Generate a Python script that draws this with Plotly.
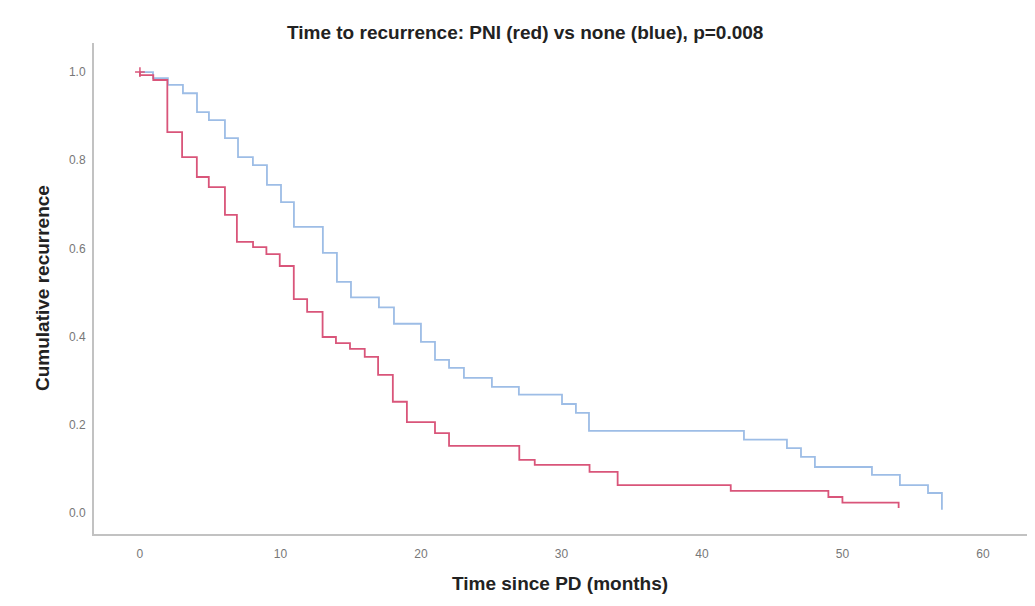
import plotly.graph_objects as go

# Kaplan-Meier style step data
red_t = [0, 0, 0.95, 1.95, 3.0, 4.05, 4.9, 6.05, 6.9, 8.05, 9.0, 9.95, 10.95, 11.9, 13.0,
         13.95, 14.95, 16.0, 16.95, 18.0, 19.0, 21.0, 22.0, 27.0, 28.1, 32.0, 34.0, 42.05,
         49.0, 50.0, 54.0]
red_s = [1.0, 0.993, 0.982, 0.864, 0.807, 0.762, 0.739, 0.676, 0.615, 0.603, 0.587, 0.560,
         0.485, 0.456, 0.399, 0.385, 0.372, 0.354, 0.313, 0.252, 0.206, 0.181, 0.152, 0.120,
         0.109, 0.093, 0.063, 0.050, 0.036, 0.023, 0.011]

blue_t = [0, 0.93, 1.99, 3.06, 4.06, 4.91, 6.05, 6.98, 8.04, 9.04, 10.04, 10.96, 13.02,
          14.02, 15.02, 17.01, 18.08, 20.0, 21.0, 22.0, 23.06, 25.05, 26.97, 30.04, 31.03,
          31.96, 42.99, 46.05, 47.05, 48.04, 52.1, 54.09, 56.09, 57.08]
blue_s = [1.0, 0.986, 0.971, 0.952, 0.909, 0.891, 0.850, 0.807, 0.789, 0.744, 0.705, 0.649,
          0.590, 0.524, 0.489, 0.466, 0.429, 0.388, 0.347, 0.329, 0.306, 0.286, 0.268, 0.247,
          0.227, 0.186, 0.166, 0.147, 0.127, 0.104, 0.086, 0.063, 0.045, 0.007]

red_censor_t = [0]
red_censor_s = [1.0]

x_ticks = [0, 10, 20, 30, 40, 50, 60]
y_ticks = [0.0, 0.2, 0.4, 0.6, 0.8, 1.0]
y_tick_labels = ["0.0", "0.2", "0.4", "0.6", "0.8", "1.0"]

title_text = "Time to recurrence: PNI (red) vs none (blue), p=0.008"
x_title = "Time since PD (months)"
y_title = "Cumulative recurrence"

RED = "#d9557a"
BLUE = "#9dbde6"

# page body adds an 8px offset; plot area is 936 x 491 px
L, T, PW, PH = 86, 35, 936, 491

fig = go.Figure()
fig.add_trace(go.Scatter(x=blue_t, y=blue_s, mode="lines", line=dict(shape="hv", color=BLUE, width=1.8),
                         name="none", showlegend=False, hoverinfo="skip"))
fig.add_trace(go.Scatter(x=red_t, y=red_s, mode="lines", line=dict(shape="hv", color=RED, width=1.8),
                         name="PNI", showlegend=False, hoverinfo="skip"))
fig.add_trace(go.Scatter(x=red_censor_t, y=red_censor_s, mode="markers",
                         marker=dict(symbol="cross-thin", size=7, line=dict(color=RED, width=1.5)),
                         showlegend=False, hoverinfo="skip"))

fig.update_layout(
    width=1027, height=598,
    margin=dict(l=L, r=1027 - L - PW, t=T, b=598 - T - PH),
    paper_bgcolor="white", plot_bgcolor="white",
    font=dict(family="Liberation Sans, Arial, sans-serif", color="#222"),
    xaxis=dict(range=[-3.27, 63.35], tickvals=x_ticks, showgrid=False, zeroline=False,
               showline=True, linecolor="#c2c2c2", linewidth=2,
               tickfont=dict(size=12, color="#777"), ticks="", ticklabelstandoff=8),
    yaxis=dict(range=[-0.048, 1.066], tickvals=y_ticks, ticktext=y_tick_labels, showgrid=False,
               zeroline=False, showline=True, linecolor="#c2c2c2", linewidth=2,
               tickfont=dict(size=12, color="#777"), ticks="", ticklabelstandoff=4),
    annotations=[
        dict(text=title_text, xref="paper", yref="paper", x=(525 - 94) / PW, y=1 + (43 - 33) / PH,
             showarrow=False, xanchor="center", yanchor="middle",
             font=dict(size=19, color="#222", weight="bold")),
        dict(text=x_title, xref="paper", yref="paper", x=(560 - 94) / PW, y=-(583 - 534) / PH,
             showarrow=False, xanchor="center", yanchor="middle",
             font=dict(size=19, color="#222", weight="bold")),
        dict(text=y_title, xref="paper", yref="paper", x=-(94 - 42) / PW, y=(534 - 288) / PH,
             showarrow=False, xanchor="center", yanchor="middle", textangle=-90,
             font=dict(size=19, color="#222", weight="bold")),
    ],
)

fig.write_html("out.html")
